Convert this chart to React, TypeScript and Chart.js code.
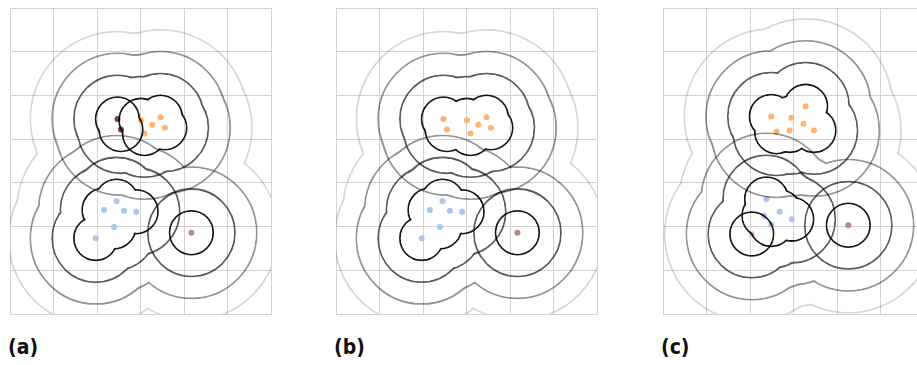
import React, { useEffect, useRef } from "react";
import { Chart, registerables } from "chart.js";

Chart.register(...registerables);

// ---------- data (grid units) ----------
// panels (a) and (b) share the same point positions
const brownX = [2.47, 2.55];
const brownY = [4.46, 4.22];
const orangeX = [3.01, 3.27, 3.46, 3.56, 3.09];
const orangeY = [4.43, 4.33, 4.5, 4.26, 4.13];
const blueX = [2.45, 2.16, 2.62, 2.9, 2.39, 1.97];
const blueY = [2.58, 2.38, 2.36, 2.34, 1.99, 1.73];
const redX = [4.17];
const redY = [1.86];
// panel (c)
const orangeCX = [2.49, 2.95, 3.28, 3.23, 2.61, 2.91, 3.47];
const orangeCY = [4.52, 4.49, 4.75, 4.35, 4.17, 4.2, 4.2];
const blueCX = [2.38, 2.68, 2.96, 2.32, 2.49];
const blueCY = [2.63, 2.34, 2.17, 2.25, 2.05];
const pinkCX = [2.04];
const pinkCY = [1.83];
const redCX = [4.26];
const redCY = [2.03];

const xTicksMax = 6;
const yTicksMax = 7;
const radii = [0.5, 1, 1.5, 2];
const levelAlpha = [0.9, 0.64, 0.42, 0.16];
const panelLabels = ["(a)", "(b)", "(c)"];

const COLORS = {
  brown: "rgba(105, 52, 38, 0.9)",
  orange: "#ffb472",
  blue: "#aec6ea",
  red: "#b98a80",
  pink: "#f6b3cc",
};

type Series = { x: number[]; y: number[]; color: string };

const toPts = (xs: number[], ys: number[]) => xs.map((v, i) => ({ x: v, y: ys[i] }));

const panels: { left: number; series: Series[]; levels: number[][][] }[] = [
  {
    left: 7,
    series: [
      { x: brownX, y: brownY, color: COLORS.brown },
      { x: orangeX, y: orangeY, color: COLORS.orange },
      { x: blueX, y: blueY, color: COLORS.blue },
      { x: redX, y: redY, color: COLORS.red },
    ],
    levels: [
      [[0], [1], [2], [3]],
      [[0, 1], [2], [3]],
      [[0, 1], [2, 3]],
      [[0, 1, 2, 3]],
    ],
  },
  {
    left: 333,
    series: [
      { x: brownX.concat(orangeX), y: brownY.concat(orangeY), color: COLORS.orange },
      { x: blueX, y: blueY, color: COLORS.blue },
      { x: redX, y: redY, color: COLORS.red },
    ],
    levels: [
      [[0], [1], [2]],
      [[0], [1], [2]],
      [[0], [1, 2]],
      [[0, 1, 2]],
    ],
  },
  {
    left: 660,
    series: [
      { x: orangeCX, y: orangeCY, color: COLORS.orange },
      { x: blueCX, y: blueCY, color: COLORS.blue },
      { x: pinkCX, y: pinkCY, color: COLORS.pink },
      { x: redCX, y: redCY, color: COLORS.red },
    ],
    levels: [
      [[0], [1], [2], [3]],
      [[0], [1, 2], [3]],
      [[0], [1, 2, 3]],
      [[0, 1, 2, 3]],
    ],
  },
];

const contourPlugin = {
  id: "contours",
  afterDatasetsDraw(chart: any, _args: any, opts: any) {
    const levels: number[][][] = opts.levels || [];
    const { ctx, chartArea, scales } = chart;
    const xs = scales.x;
    const ys = scales.y;
    const w = chart.canvas.width;
    const h = chart.canvas.height;
    const off = document.createElement("canvas");
    off.width = w;
    off.height = h;
    const o = off.getContext("2d")!;
    const lw = 1.8;
    for (let li = levels.length - 1; li >= 0; li--) {
      const r = radii[li];
      const rx = Math.abs(xs.getPixelForValue(r) - xs.getPixelForValue(0));
      const ry = Math.abs(ys.getPixelForValue(r) - ys.getPixelForValue(0));
      for (const group of levels[li]) {
        const pts: { px: number; py: number }[] = [];
        for (const di of group) {
          for (const p of chart.data.datasets[di].data) {
            pts.push({ px: xs.getPixelForValue(p.x), py: ys.getPixelForValue(p.y) });
          }
        }
        o.globalCompositeOperation = "source-over";
        o.clearRect(0, 0, w, h);
        o.strokeStyle = "#000";
        o.lineWidth = lw;
        for (const p of pts) {
          o.beginPath();
          o.ellipse(p.px, p.py, rx, ry, 0, 0, Math.PI * 2);
          o.stroke();
        }
        o.globalCompositeOperation = "destination-out";
        o.fillStyle = "#000";
        for (const p of pts) {
          o.beginPath();
          o.ellipse(p.px, p.py, rx - lw / 2, ry - lw / 2, 0, 0, Math.PI * 2);
          o.fill();
        }
        o.globalCompositeOperation = "source-over";
        ctx.save();
        ctx.beginPath();
        ctx.rect(chartArea.left, chartArea.top, chartArea.right - chartArea.left, chartArea.bottom - chartArea.top);
        ctx.clip();
        ctx.globalAlpha = levelAlpha[li];
        ctx.drawImage(off, 0, 0);
        ctx.restore();
      }
    }
  },
};

function Panel({ idx }: { idx: number }) {
  const ref = useRef<HTMLCanvasElement | null>(null);
  const cfg = panels[idx];
  useEffect(() => {
    if (!ref.current) return;
    const gridColor = "#d2d2d2";
    const chart = new Chart(ref.current, {
      type: "scatter",
      data: {
        datasets: cfg.series.map((s) => ({
          data: toPts(s.x, s.y),
          backgroundColor: s.color,
          borderWidth: 0,
          pointRadius: 3,
          pointHoverRadius: 3,
        })),
      },
      options: {
        responsive: false,
        animation: false,
        events: [],
        layout: { padding: { left: 1, top: 1, right: 2, bottom: 2 } },
        plugins: {
          legend: { display: false },
          tooltip: { enabled: false },
          contours: { levels: cfg.levels },
        } as any,
        scales: {
          x: {
            type: "linear",
            min: 0,
            max: xTicksMax,
            ticks: { display: false, stepSize: 1 },
            grid: { color: gridColor, drawTicks: false, lineWidth: 1 },
            border: { color: gridColor },
          },
          y: {
            type: "linear",
            min: 0,
            max: yTicksMax,
            ticks: { display: false, stepSize: 1 },
            grid: { color: gridColor, drawTicks: false, lineWidth: 1 },
            border: { color: gridColor },
          },
        },
      },
      plugins: [contourPlugin],
    });
    return () => chart.destroy();
  }, []);
  return (
    <>
      <canvas
        ref={ref}
        width={267}
        height={312}
        style={{ position: "absolute", left: cfg.left, top: 5, width: 267, height: 312 }}
      />
      <div
        style={{
          position: "absolute",
          left: cfg.left + 1,
          top: 335,
          fontFamily: "'DejaVu Sans Condensed', 'Liberation Sans Narrow', 'DejaVu Sans', sans-serif",
          fontStretch: "condensed",
          fontWeight: "bold",
          fontSize: 21,
          lineHeight: "24px",
          color: "#111",
        }}
      >
        {panelLabels[idx]}
      </div>
    </>
  );
}

export default function App() {
  return (
    <div
      style={{
        position: "fixed",
        left: 0,
        top: 0,
        width: 917,
        height: 365,
        overflow: "hidden",
        background: "#fff",
      }}
    >
      <Panel idx={0} />
      <Panel idx={1} />
      <Panel idx={2} />
    </div>
  );
}
